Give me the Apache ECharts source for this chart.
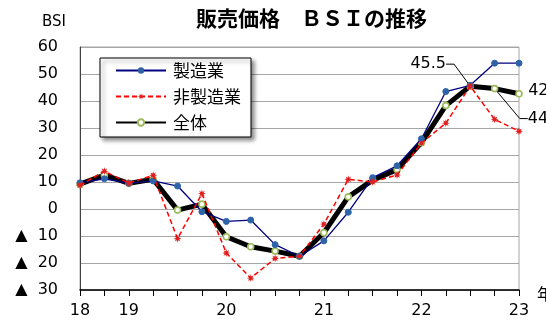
<!DOCTYPE html>
<html><head><meta charset="utf-8">
<script src="https://cdn.jsdelivr.net/npm/echarts@6/dist/echarts.min.js"></script>
<style>html,body{margin:0;padding:0;background:#fff}#c{width:546px;height:320px}</style>
</head><body><div id="c"></div>
<script>
const categories = ['18-3Q','18-4Q','19-1Q','19-2Q','19-3Q','19-4Q','20-1Q','20-2Q','20-3Q','20-4Q','21-1Q','21-2Q','21-3Q','21-4Q','22-1Q','22-2Q','22-3Q','22-4Q','23-1Q'];
const tickLabels = ['18','','19','','','','20','','','','21','','','','22','','','','23'];
const manufacturing = [9.7, 11.2, 9.5, 10.4, 8.5, -1.0, -4.6, -4.1, -13.2, -17.5, -11.8, -1.2, 11.6, 16.0, 26.0, 43.5, 45.8, 54.0, 54.0];
const nonManufacturing = [8.8, 14.0, 9.6, 12.5, -11.0, 5.7, -16.3, -25.6, -18.3, -17.5, -5.6, 11.0, 10.0, 12.6, 24.4, 31.8, 45.5, 33.2, 28.8];
const overall = [9.2, 12.6, 9.5, 11.0, -0.4, 1.8, -10.3, -14.0, -15.6, -17.5, -8.8, 4.5, 10.7, 14.6, 24.6, 38.3, 45.5, 44.6, 42.7];
const labeledIdx = [16, 17, 18];
const seriesNames = ['製造業', '非製造業', '全体'];

const starPath = 'path://M10,0 L4.16,1.72 L7.07,7.07 L1.72,4.16 L0,10 L-1.72,4.16 L-7.07,7.07 L-4.16,1.72 L-10,0 L-4.16,-1.72 L-7.07,-7.07 L-1.72,-4.16 L0,-10 L1.72,-4.16 L7.07,-7.07 L4.16,-1.72 Z';
const labelOffsets = {16: {dx: -42, dy: -22, line: true}, 17: {dx: 51, dy: 30, line: true}, 18: {dx: 27, dy: -3, line: false}};

const overallData = overall.map((v, i) => {
  if (labeledIdx.indexOf(i) >= 0) {
    return {value: v, label: {show: true}, labelLine: {show: labelOffsets[i].line}};
  }
  return v;
});

const chart = echarts.init(document.getElementById('c'), null, {renderer: 'canvas'});
chart.setOption({
  animation: false,
  backgroundColor: '#fff',
  title: {
    text: '販売価格　ＢＳＩの推移',
    left: 196, top: 8, padding: 0,
    textStyle: {fontFamily: 'Noto Sans CJK JP', fontWeight: 'bold', fontSize: 21, color: '#000'}
  },
  legend: {
    data: seriesNames,
    orient: 'vertical',
    left: 100, top: 58, width: 163, height: 77,
    padding: [4, 10, 6, 15],
    itemWidth: 50, itemHeight: 8, itemGap: 9,
    backgroundColor: '#fff', borderColor: '#000', borderWidth: 1,
    shadowBlur: 4, shadowColor: 'rgba(0,0,0,0.45)', shadowOffsetX: 3, shadowOffsetY: 3,
    textStyle: {fontFamily: 'Noto Sans CJK JP', fontSize: 17, color: '#000', padding: [0, 0, 0, 2]}
  },
  grid: {left: 80, right: 27, top: 47, bottom: 30, show: true, borderColor: '#a6a6a6', borderWidth: 1, containLabel: false, outerBoundsMode: 'none'},
  xAxis: {
    type: 'category', data: categories, boundaryGap: false,
    name: '年', nameLocation: 'end', nameGap: 18, nameMoveOverlap: false,
    nameTextStyle: {fontFamily: 'Noto Sans CJK JP', fontSize: 16, color: '#000', align: 'left', verticalAlign: 'top', padding: [-4, 0, 0, 0]},
    axisLine: {onZero: false, lineStyle: {color: '#000', width: 1.5}},
    axisTick: {show: true, interval: 0, length: 6, lineStyle: {color: '#000'}},
    axisLabel: {interval: 0, margin: 13, fontFamily: 'DejaVu Sans', fontSize: 16, color: '#000',
      formatter: (v, i) => tickLabels[i]},
    splitLine: {show: false}
  },
  yAxis: {
    type: 'value', min: -30, max: 60, interval: 10,
    name: 'BSI', nameLocation: 'end', nameGap: 17,
    nameTextStyle: {fontFamily: 'DejaVu Sans', fontSize: 15, color: '#000', align: 'right', padding: [0, 14, 0, 0]},
    axisLine: {show: true, lineStyle: {color: '#404040', width: 1}},
    axisTick: {show: false},
    axisLabel: {margin: 22, fontFamily: 'DejaVu Sans', fontSize: 16, color: '#000',
      formatter: v => v < 0 ? '▲  ' + Math.abs(v) : String(v)},
    splitLine: {show: true, lineStyle: {color: '#a6a6a6', width: 1}}
  },
  series: [
    {
      name: seriesNames[0], type: 'line', data: manufacturing, z: 3,
      symbol: 'circle', symbolSize: 6,
      lineStyle: {color: '#000080', width: 1.3},
      itemStyle: {color: '#2f63a8', borderColor: '#2f63a8'}
    },
    {
      name: seriesNames[1], type: 'line', data: nonManufacturing, z: 4,
      symbol: starPath, symbolSize: 8,
      lineStyle: {color: '#ff0000', width: 1.5, type: [5, 3]},
      itemStyle: {color: '#e02020'}
    },
    {
      name: seriesNames[2], type: 'line', data: overallData, z: 2,
      symbol: 'circle', symbolSize: 6, showAllSymbol: true,
      lineStyle: {color: '#000', width: 5},
      itemStyle: {color: '#fff', borderColor: '#9bbb59', borderWidth: 1.6},
      label: {show: false, position: 'inside', fontFamily: 'DejaVu Sans', fontSize: 16, color: '#000',
        formatter: p => p.value.toFixed(1)},
      labelLine: {show: false, length2: 8, lineStyle: {color: '#000', width: 1}},
      labelLayout: p => {
        const o = labelOffsets[p.dataIndex];
        return o ? {dx: o.dx, dy: o.dy} : {};
      }
    }
  ]
});
</script>
</body></html>
